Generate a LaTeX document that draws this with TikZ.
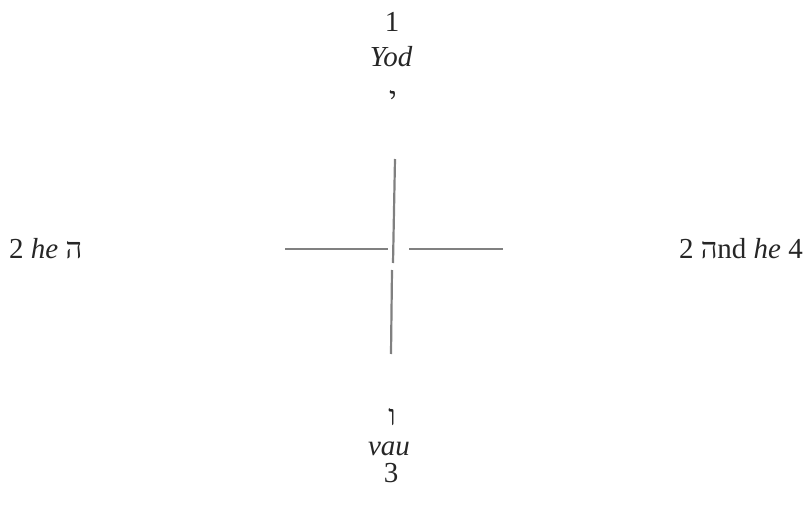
\documentclass[tikz,border=0pt]{standalone}
\usepackage{fontspec}
\setmainfont{Liberation Serif}
\newfontfamily\hebfont[Script=Hebrew]{Liberation Serif}
\begin{document}
\begin{tikzpicture}[x=1pt,y=-1pt,
  lbl/.style={anchor=base,inner sep=0pt,font=\fontsize{29}{34}\selectfont,text=black!85},
  bar/.style={draw=black!50,line width=2.2pt}]
\useasboundingbox (0,0) rectangle (804,506);
% top
\node[lbl] (one) at (392,31) {1};
\node[lbl] (yod) at (391,66) {\itshape Yod};
\node[lbl] (yodh) at (393,107) {\hebfont י};
% left / right
\node[lbl,anchor=base west] (left) at (9,258) {2 \textit{he} {\hebfont ה}};
\node[lbl,anchor=base east] (right) at (803,258) {2 {\hebfont ה}nd \textit{he} 4};
% bottom
\node[lbl] (vav) at (392,425) {\hebfont ו};
\node[lbl] (vau) at (389,455) {\itshape vau};
\node[lbl] (three) at (391,482) {3};
% cross
\coordinate (vt1) at (395,159);
\coordinate (vt2) at (393,263);
\coordinate (vb1) at (392,270);
\coordinate (vb2) at (391,354);
\coordinate (hl1) at (285,249);
\coordinate (hl2) at (388,249);
\coordinate (hr1) at (409,249);
\coordinate (hr2) at (503,249);
\draw[bar] (vt1) -- (vt2);
\draw[bar] (vb1) -- (vb2);
\draw[bar] (hl1) -- (hl2);
\draw[bar] (hr1) -- (hr2);
\end{tikzpicture}
\end{document}
